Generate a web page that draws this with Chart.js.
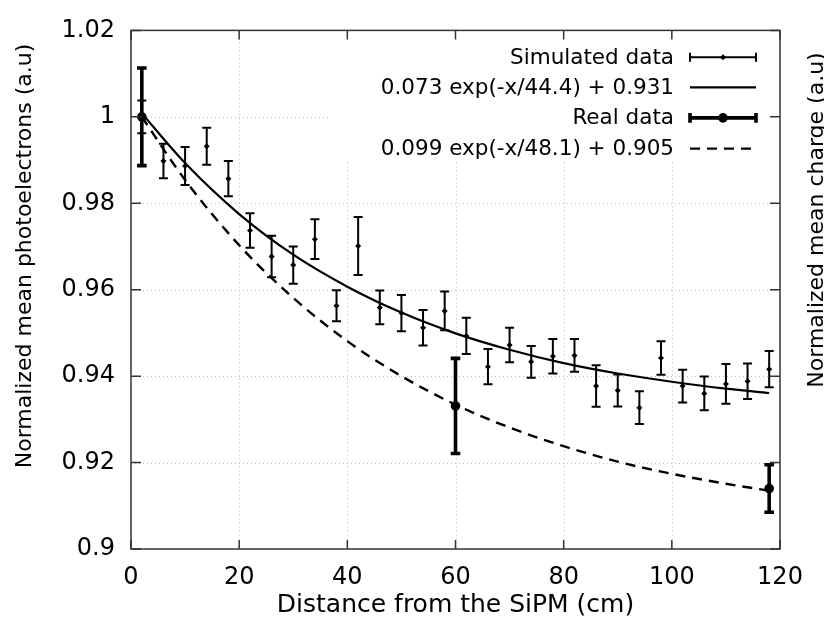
<!DOCTYPE html>
<html>
<head>
<meta charset="utf-8">
<script src="https://cdn.jsdelivr.net/npm/chart.js@4.4.1/dist/chart.umd.min.js"></script>
<style>
  html, body { margin: 0; padding: 0; background: #fff; }
</style>
</head>
<body>
<canvas id="grafico" width="824" height="630"></canvas>
<script>
// DATI letti dal grafico
// dati simulati (distanza in cm, valore normalizzato, errore)
const simX = [2, 6, 10, 14, 18, 22, 26, 30, 34, 38, 42, 46, 50, 54, 58, 62, 66, 70, 74, 78, 82, 86, 90, 94, 98, 102, 106, 110, 114, 118];
const simY = [1.0000, 0.9898, 0.9886, 0.9932, 0.9857, 0.9737, 0.9677, 0.9657, 0.9717, 0.9563, 0.9701, 0.9559, 0.9546, 0.9512, 0.9551,
              0.9493, 0.9422, 0.9472, 0.9433, 0.9446, 0.9448, 0.9377, 0.9367, 0.9327, 0.9442, 0.9377, 0.9360, 0.9382, 0.9388, 0.9416];
const simErr = [0.0038, 0.0040, 0.0044, 0.0043, 0.0041, 0.0040, 0.0048, 0.0043, 0.0046, 0.0036, 0.0067, 0.0039, 0.0042, 0.0041, 0.0045,
                0.0042, 0.0041, 0.0040, 0.0037, 0.0040, 0.0038, 0.0048, 0.0037, 0.0038, 0.0039, 0.0038, 0.0039, 0.0046, 0.0041, 0.0042];

// dati reali
const realX = [2, 60, 118];
const realY = [1.0000, 0.9331, 0.9140];
const realErr = [0.0113, 0.0110, 0.0055];

// curve di fit
const fitX = [2, 10, 20, 30, 40, 50, 60, 70, 80, 90, 100, 110, 118];
const simFitY = [1.0008, 0.9893, 0.9775, 0.9681, 0.9607, 0.9547, 0.9499, 0.9461, 0.9430, 0.9406, 0.9387, 0.9371, 0.9361];
const realFitY = [1.0000, 0.9854, 0.9703, 0.9581, 0.9481, 0.9400, 0.9334, 0.9281, 0.9238, 0.9202, 0.9174, 0.9151, 0.9135];

// tick e etichette
const xTicks = [0, 20, 40, 60, 80, 100, 120];
const xTickLabels = ["0", "20", "40", "60", "80", "100", "120"];
const yTicks = [0.9, 0.92, 0.94, 0.96, 0.98, 1.0, 1.02];
const yTickLabels = ["0.9", "0.92", "0.94", "0.96", "0.98", "1", "1.02"];

const legendTexts = ["Simulated data", "0.073 exp(-x/44.4) + 0.931", "Real data", "0.099 exp(-x/48.1) + 0.905"];
const xTitle = "Distance from the SiPM (cm)";
const yTitle = "Normalized mean photoelectrons (a.u)";
const y2Title = "Normalized mean charge (a.u)";

const FONT = "'DejaVu Sans', Verdana, sans-serif";
Chart.defaults.font.family = FONT;
Chart.defaults.color = '#000';

function punti(xs, ys) {
    return xs.map((x, i) => ({x: x, y: ys[i]}));
}

// disegna le barre d'errore usando le scale del grafico
function barreErrore(ctx, sx, sy, xs, ys, es, spessore, cap) {
    ctx.save();
    ctx.strokeStyle = '#000';
    ctx.lineWidth = spessore;
    ctx.lineCap = 'butt';
    for (let i = 0; i < xs.length; i++) {
        const px = sx.getPixelForValue(xs[i]);
        const top = sy.getPixelForValue(ys[i] + es[i]);
        const bot = sy.getPixelForValue(ys[i] - es[i]);
        ctx.beginPath();
        ctx.moveTo(px, top); ctx.lineTo(px, bot);
        ctx.moveTo(px - cap, top); ctx.lineTo(px + cap, top);
        ctx.moveTo(px - cap, bot); ctx.lineTo(px + cap, bot);
        ctx.stroke();
    }
    ctx.restore();
}

// stile gnuplot: griglia tratteggiata, cornice, tick verso l'interno, legenda e titoli
const gnuplotStyle = {
    id: 'gnuplotStyle',
    beforeDatasetsDraw(chart) {
        const {ctx, chartArea: a, scales: {x, y}} = chart;
        const lx = a.right - 450, lb = a.top + 131; // zona della legenda senza griglia
        ctx.save();
        ctx.beginPath();
        ctx.rect(a.left, a.top, a.right - a.left, a.bottom - a.top);
        ctx.rect(lx, a.top, a.right - lx, lb - a.top);
        ctx.clip('evenodd');
        ctx.strokeStyle = '#bcbcbc';
        ctx.lineWidth = 1;
        ctx.setLineDash([1, 3]);
        ctx.beginPath();
        xTicks.slice(1, -1).forEach(v => {
            const px = Math.round(x.getPixelForValue(v)) + 0.5;
            ctx.moveTo(px, a.top); ctx.lineTo(px, a.bottom);
        });
        yTicks.slice(1, -1).forEach(v => {
            const py = Math.round(y.getPixelForValue(v)) + 0.5;
            ctx.moveTo(a.left, py); ctx.lineTo(a.right, py);
        });
        ctx.stroke();
        ctx.restore();
    },
    afterDatasetsDraw(chart) {
        const {ctx, scales: {x, y}} = chart;
        barreErrore(ctx, x, y, simX, simY, simErr, 2, 4.5);
        barreErrore(ctx, x, y, realX, realY, realErr, 3.6, 4.8);
    },
    afterDraw(chart) {
        const {ctx, chartArea: a, scales: {x, y}} = chart;
        ctx.save();
        // cornice
        ctx.strokeStyle = '#333';
        ctx.lineWidth = 1.5;
        ctx.strokeRect(a.left, a.top, a.right - a.left, a.bottom - a.top);
        // tick interni su tutti i lati
        ctx.beginPath();
        xTicks.forEach(v => {
            const px = x.getPixelForValue(v);
            ctx.moveTo(px, a.bottom); ctx.lineTo(px, a.bottom - 9);
            ctx.moveTo(px, a.top); ctx.lineTo(px, a.top + 9);
        });
        yTicks.forEach(v => {
            const py = y.getPixelForValue(v);
            ctx.moveTo(a.left, py); ctx.lineTo(a.left + 10, py);
            ctx.moveTo(a.right, py); ctx.lineTo(a.right - 10, py);
        });
        ctx.stroke();

        // legenda
        ctx.fillStyle = '#000';
        ctx.font = '21.5px ' + FONT;
        ctx.textAlign = 'right';
        ctx.textBaseline = 'alphabetic';
        const tx = a.right - 106, s0 = a.right - 90, s1 = a.right - 24, sm = (s0 + s1) / 2;
        const righe = [a.top + 33.3, a.top + 63.5, a.top + 94, a.top + 124.7];
        righe.forEach((b, i) => ctx.fillText(legendTexts[i], tx, b));
        ctx.strokeStyle = '#000';
        // simulati
        let ly = righe[0] - 6.5;
        ctx.lineWidth = 2;
        ctx.beginPath();
        ctx.moveTo(s0, ly); ctx.lineTo(s1, ly);
        ctx.moveTo(s0, ly - 4.5); ctx.lineTo(s0, ly + 4.5);
        ctx.moveTo(s1, ly - 4.5); ctx.lineTo(s1, ly + 4.5);
        ctx.stroke();
        ctx.beginPath();
        ctx.moveTo(sm, ly - 3); ctx.lineTo(sm + 3, ly); ctx.lineTo(sm, ly + 3); ctx.lineTo(sm - 3, ly);
        ctx.fill();
        // fit simulati
        ly = righe[1] - 6.5;
        ctx.lineWidth = 2.2;
        ctx.beginPath(); ctx.moveTo(s0, ly); ctx.lineTo(s1, ly); ctx.stroke();
        // reali
        ly = righe[2] - 6.5;
        ctx.lineWidth = 3.6;
        ctx.beginPath();
        ctx.moveTo(s0, ly); ctx.lineTo(s1, ly);
        ctx.moveTo(s0, ly - 4.8); ctx.lineTo(s0, ly + 4.8);
        ctx.moveTo(s1, ly - 4.8); ctx.lineTo(s1, ly + 4.8);
        ctx.stroke();
        ctx.beginPath(); ctx.arc(sm, ly, 4.8, 0, Math.PI * 2); ctx.fill();
        // fit reali
        ly = righe[3] - 6.5;
        ctx.lineWidth = 2.4;
        ctx.setLineDash([10, 7]);
        ctx.beginPath(); ctx.moveTo(s0, ly); ctx.lineTo(s1, ly); ctx.stroke();
        ctx.setLineDash([]);

        // titoli degli assi
        ctx.textAlign = 'center';
        ctx.font = '25px ' + FONT;
        ctx.fillText(xTitle, (a.left + a.right) / 2, 612);
        ctx.font = '22px ' + FONT;
        ctx.save();
        ctx.translate(31, 256);
        ctx.rotate(-Math.PI / 2);
        ctx.fillText(yTitle, 0, 0);
        ctx.restore();
        ctx.save();
        ctx.translate(823, 220);
        ctx.rotate(-Math.PI / 2);
        ctx.fillText(y2Title, 0, 0);
        ctx.restore();
        ctx.restore();
    }
};

const config = {
    type: 'scatter',
    data: {
        datasets: [{
            label: 'Real data',
            data: punti(realX, realY),
            pointStyle: 'circle',
            pointRadius: 4.8,
            backgroundColor: '#000',
            borderColor: '#000',
            borderWidth: 0
        }, {
            label: 'Simulated data',
            data: punti(simX, simY),
            pointStyle: 'rectRot',
            pointRadius: 3,
            backgroundColor: '#000',
            borderColor: '#000',
            borderWidth: 0
        }, {
            type: 'line',
            label: 'fit reali',
            data: punti(fitX, realFitY),
            borderColor: '#000',
            borderWidth: 2.4,
            borderDash: [10, 7],
            pointRadius: 0,
            fill: false,
            cubicInterpolationMode: 'monotone'
        }, {
            type: 'line',
            label: 'fit simulati',
            data: punti(fitX, simFitY),
            borderColor: '#000',
            borderWidth: 2.2,
            pointRadius: 0,
            fill: false,
            cubicInterpolationMode: 'monotone'
        }]
    },
    options: {
        responsive: false,
        animation: false,
        devicePixelRatio: 1,
        layout: { padding: { top: 16, right: 44, left: 0, bottom: 0 } },
        plugins: {
            legend: { display: false },
            tooltip: { enabled: false }
        },
        scales: {
            x: {
                type: 'linear',
                min: 0,
                max: 120,
                afterBuildTicks: s => { s.ticks = xTicks.map(v => ({value: v})); },
                afterFit: s => { s.height = 81; },
                ticks: {
                    font: { size: 24 },
                    color: '#000',
                    padding: 14,
                    maxRotation: 0,
                    autoSkip: false,
                    callback: (v, i) => xTickLabels[i]
                },
                grid: { display: false, drawTicks: false },
                border: { display: false }
            },
            y: {
                type: 'linear',
                min: 0.9,
                max: 1.02,
                afterBuildTicks: s => { s.ticks = yTicks.map(v => ({value: v})); },
                afterFit: s => { s.width = 131; },
                ticks: {
                    font: { size: 24 },
                    color: '#000',
                    padding: 16,
                    autoSkip: false,
                    callback: (v, i) => yTickLabels[i]
                },
                grid: { display: false, drawTicks: false },
                border: { display: false }
            }
        }
    },
    plugins: [gnuplotStyle]
};

const chart = new Chart(document.getElementById('grafico'), config);
</script>
</body>
</html>
